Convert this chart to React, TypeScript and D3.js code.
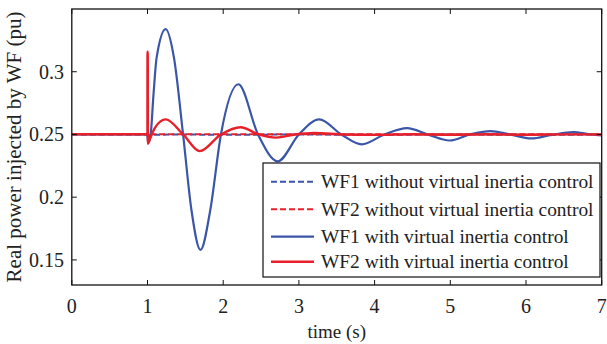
import React from "react";
import * as d3 from "d3";

const xTicks = [0, 1, 2, 3, 4, 5, 6, 7];
const yTicks = [0.15, 0.2, 0.25, 0.3];
const yTickLabels = ["0.15", "0.2", "0.25", "0.3"];

const seriesNames = [
  "WF1 without virtual inertia control",
  "WF2 without virtual inertia control",
  "WF1 with virtual inertia control",
  "WF2 with virtual inertia control",
];

const wf1WithoutT = [0, 0.998, 1.01, 1.03, 1.5, 2.0, 3.0, 4.0, 5.0, 6.0, 7.0];
const wf1WithoutV = [0.25, 0.25, 0.246, 0.2498, 0.2499, 0.2498, 0.2499, 0.2498, 0.2499, 0.2498, 0.2499];

const wf2WithoutT = [0, 0.998, 1.01, 1.03, 2.0, 3.0, 4.0, 5.0, 6.0, 7.0];
const wf2WithoutV = [0.2502, 0.2502, 0.2485, 0.2502, 0.2502, 0.2501, 0.2502, 0.2501, 0.2502, 0.2501];

const wf1WithT = [0, 0.995, 1.01, 1.04, 1.08, 1.12, 1.24, 1.35, 1.47, 1.58, 1.7, 1.83, 1.97, 2.2, 2.46, 2.72, 3.0, 3.27, 3.56, 3.83, 4.13, 4.43, 4.7, 4.99, 5.26, 5.53, 5.79, 6.07, 6.34, 6.62, 6.86, 7.0];
const wf1WithV = [0.25, 0.25, 0.2435, 0.249, 0.2825, 0.311, 0.334, 0.311, 0.25, 0.19, 0.158, 0.19, 0.25, 0.29, 0.25, 0.2286, 0.25, 0.262, 0.25, 0.2421, 0.25, 0.255, 0.25, 0.2452, 0.25, 0.2527, 0.25, 0.2468, 0.2496, 0.2518, 0.25, 0.2492];

const wf2WithT = [0, 0.999, 1.0, 1.003, 1.006, 1.03, 1.1, 1.24, 1.47, 1.69, 1.97, 2.23, 2.47, 2.7, 2.95, 3.2, 3.6, 4.0, 4.5, 5.0, 5.5, 6.0, 6.5, 7.0];
const wf2WithV = [0.2502, 0.2502, 0.316, 0.316, 0.2426, 0.246, 0.2555, 0.262, 0.25, 0.2367, 0.25, 0.2558, 0.25, 0.2475, 0.25, 0.2512, 0.25, 0.2497, 0.2502, 0.2498, 0.2502, 0.2498, 0.2501, 0.25];

const BLUE = "#3b56a8";
const RED = "#e8202a";

const W = 607;
const H = 344;
const left = 71.8;
const right = 601.7;
const top = 9;
const bottom = 285;
const FONT = "'Liberation Serif', 'Times New Roman', serif";

export default function App() {
  const x = d3.scaleLinear().domain([0, 7]).range([left, right]);
  const y = d3.scaleLinear().domain([0.13, 0.35]).range([bottom, top]);
  const line = d3
    .line<[number, number]>()
    .x((d) => x(d[0]))
    .y((d) => y(d[1]))
    .curve(d3.curveMonotoneX);

  const zip = (t: number[], v: number[]) => t.map((tt, i) => [tt, v[i]] as [number, number]);

  const series = [
    { name: seriesNames[0], d: line(zip(wf1WithoutT, wf1WithoutV)), color: BLUE, dash: "6,3", w: 2 },
    { name: seriesNames[1], d: line(zip(wf2WithoutT, wf2WithoutV)), color: RED, dash: "6,3", w: 2 },
    { name: seriesNames[2], d: line(zip(wf1WithT, wf1WithV)), color: BLUE, dash: undefined, w: 2.2 },
    { name: seriesNames[3], d: line(zip(wf2WithT, wf2WithV)), color: RED, dash: undefined, w: 2.4 },
  ];

  const tickLen = 5;
  const legX = 263;
  const legY = 163;
  const legW = 337;
  const legH = 114;
  const rowY = [181.7, 209.2, 236.7, 261.7];

  return (
    <svg
      width={W}
      height={H}
      style={{ position: "absolute", left: 0, top: 0, background: "#fff" }}
      fontFamily={FONT}
    >
      <rect x={0} y={0} width={W} height={H} fill="#fff" />
      <defs>
        <clipPath id="plotclip">
          <rect x={left} y={top} width={right - left} height={bottom - top} />
        </clipPath>
      </defs>
      <g clipPath="url(#plotclip)">
        {series.map((s, i) => (
          <path
            key={i}
            d={s.d || ""}
            fill="none"
            stroke={s.color}
            strokeWidth={s.w}
            strokeDasharray={s.dash}
            strokeLinejoin="round"
          />
        ))}
      </g>
      {/* axes box */}
      <rect x={left} y={top} width={right - left} height={bottom - top} fill="none" stroke="#111" strokeWidth={1.3} />
      {xTicks.map((t) => (
        <g key={"xt" + t}>
          <line x1={x(t)} x2={x(t)} y1={bottom} y2={bottom - tickLen} stroke="#111" strokeWidth={1} />
          <line x1={x(t)} x2={x(t)} y1={top} y2={top + tickLen} stroke="#111" strokeWidth={1} />
          <text x={x(t)} y={313} textAnchor="middle" fontSize={20} fill="#222">
            {t}
          </text>
        </g>
      ))}
      {yTicks.map((v, i) => (
        <g key={"yt" + v}>
          <line x1={left} x2={left + tickLen} y1={y(v)} y2={y(v)} stroke="#111" strokeWidth={1} />
          <line x1={right} x2={right - tickLen} y1={y(v)} y2={y(v)} stroke="#111" strokeWidth={1} />
          <text x={64} y={y(v)} dy="0.35em" textAnchor="end" fontSize={20} fill="#222">
            {yTickLabels[i]}
          </text>
        </g>
      ))}
      <text x={(left + right) / 2} y={338} textAnchor="middle" fontSize={19} fill="#222">
        time (s)
      </text>
      <text
        transform={`translate(21, ${(top + bottom) / 2}) rotate(-90)`}
        textAnchor="middle"
        fontSize={21}
        fill="#222"
      >
        Real power injected by WF (pu)
      </text>
      {/* legend */}
      <rect x={legX} y={legY} width={legW} height={legH} fill="#fff" stroke="#111" strokeWidth={1.2} />
      {series.map((s, i) => (
        <g key={"lg" + i}>
          <line
            x1={271}
            x2={314}
            y1={rowY[i]}
            y2={rowY[i]}
            stroke={s.color}
            strokeWidth={s.w}
            strokeDasharray={s.dash}
          />
          <text x={321} y={rowY[i]} dy="0.33em" fontSize={19.4} fill="#222">
            {s.name}
          </text>
        </g>
      ))}
    </svg>
  );
}
